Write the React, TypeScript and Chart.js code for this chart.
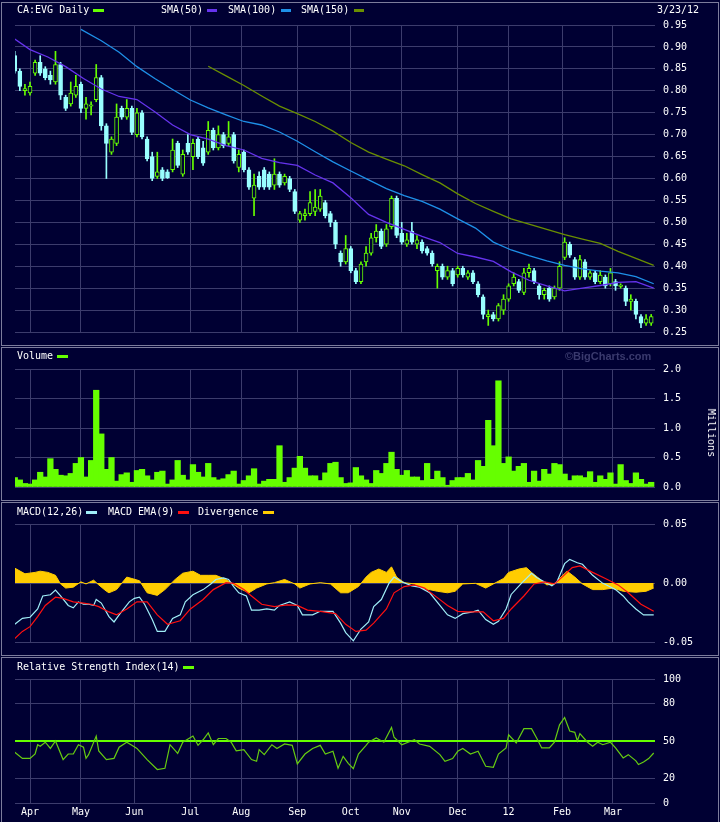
import { useEffect, useRef } from "react"
import { Chart, registerables } from "chart.js"

Chart.register(...registerables)

const BG = "#000033"
const GRID = "#3c3c6c"
const FRAME = "#7c7c9c"
const MONO = "'DejaVu Sans Mono', monospace"
const UP = "#66ff00"
const DOWN = "#99ffff"

// x axis is the trading-day index: 0 = 3/23/11 ... 252 = 3/23/12
const monthDays = [7, 27, 48, 70, 90, 112, 133, 153, 175, 195, 216, 236]
const monthLabels = ["Apr", "May", "Jun", "Jul", "Aug", "Sep", "Oct", "Nov", "Dec", "12", "Feb", "Mar"]

// one candle per two trading days (days 1, 3, 5 ...)
const opens = [
  0.88, 0.845, 0.8, 0.795, 0.84, 0.865, 0.85, 0.835, 0.82, 0.86,
  0.785, 0.77, 0.79, 0.815, 0.76, 0.765, 0.78, 0.83, 0.72, 0.66,
  0.68, 0.76, 0.74, 0.76, 0.7, 0.75, 0.69, 0.65, 0.605, 0.62,
  0.615, 0.62, 0.68, 0.61, 0.68, 0.65, 0.69, 0.67, 0.66, 0.71,
  0.67, 0.7, 0.68, 0.7, 0.625, 0.66, 0.62, 0.555, 0.605, 0.62,
  0.61, 0.585, 0.61, 0.59, 0.6, 0.57, 0.505, 0.515, 0.52, 0.525,
  0.53, 0.545, 0.52, 0.5, 0.43, 0.41, 0.44, 0.39, 0.365, 0.41,
  0.43, 0.465, 0.48, 0.45, 0.49, 0.555, 0.475, 0.45, 0.48, 0.45,
  0.455, 0.44, 0.43, 0.39, 0.4, 0.375, 0.39, 0.38, 0.395, 0.375,
  0.385, 0.36, 0.33, 0.285, 0.29, 0.28, 0.3, 0.325, 0.36, 0.365,
  0.34, 0.385, 0.39, 0.355, 0.335, 0.35, 0.33, 0.35, 0.42, 0.45,
  0.415, 0.375, 0.41, 0.375, 0.385, 0.365, 0.375, 0.36, 0.365, 0.354,
  0.35, 0.32, 0.32, 0.285, 0.27, 0.27,
]
const highs = [
  0.89, 0.85, 0.815, 0.82, 0.87, 0.88, 0.855, 0.845, 0.89, 0.865,
  0.79, 0.82, 0.835, 0.82, 0.785, 0.775, 0.86, 0.835, 0.725, 0.695,
  0.77, 0.765, 0.78, 0.765, 0.76, 0.755, 0.695, 0.66, 0.66, 0.625,
  0.62, 0.69, 0.685, 0.665, 0.7, 0.69, 0.695, 0.685, 0.73, 0.715,
  0.72, 0.705, 0.73, 0.705, 0.665, 0.665, 0.625, 0.61, 0.615, 0.625,
  0.615, 0.645, 0.615, 0.61, 0.605, 0.575, 0.525, 0.53, 0.57, 0.575,
  0.575, 0.55, 0.525, 0.505, 0.435, 0.47, 0.445, 0.395, 0.41, 0.445,
  0.475, 0.495, 0.485, 0.495, 0.56, 0.56, 0.5, 0.475, 0.5, 0.47,
  0.46, 0.445, 0.435, 0.405, 0.405, 0.4, 0.395, 0.4, 0.4, 0.39,
  0.39, 0.365, 0.335, 0.3, 0.295, 0.315, 0.335, 0.36, 0.385, 0.37,
  0.395, 0.405, 0.395, 0.36, 0.35, 0.355, 0.355, 0.41, 0.465, 0.455,
  0.42, 0.425, 0.415, 0.39, 0.39, 0.39, 0.38, 0.395, 0.37, 0.36,
  0.355, 0.335, 0.325, 0.29, 0.29, 0.29,
]
const lows = [
  0.84, 0.8, 0.79, 0.79, 0.835, 0.835, 0.825, 0.815, 0.815, 0.78,
  0.755, 0.765, 0.785, 0.75, 0.735, 0.745, 0.775, 0.71, 0.6, 0.655,
  0.675, 0.735, 0.735, 0.7, 0.695, 0.69, 0.64, 0.595, 0.6, 0.595,
  0.6, 0.615, 0.625, 0.605, 0.655, 0.62, 0.645, 0.63, 0.655, 0.665,
  0.665, 0.67, 0.675, 0.635, 0.615, 0.615, 0.575, 0.515, 0.575, 0.575,
  0.575, 0.575, 0.58, 0.585, 0.57, 0.52, 0.5, 0.505, 0.515, 0.515,
  0.525, 0.51, 0.49, 0.44, 0.4, 0.405, 0.385, 0.36, 0.36, 0.4,
  0.425, 0.455, 0.44, 0.445, 0.485, 0.465, 0.45, 0.445, 0.45, 0.44,
  0.43, 0.425, 0.4, 0.35, 0.37, 0.37, 0.355, 0.375, 0.375, 0.37,
  0.36, 0.33, 0.28, 0.265, 0.275, 0.275, 0.29, 0.32, 0.355, 0.34,
  0.335, 0.375, 0.36, 0.325, 0.325, 0.32, 0.325, 0.345, 0.415, 0.42,
  0.37, 0.37, 0.37, 0.37, 0.36, 0.36, 0.35, 0.355, 0.345, 0.35,
  0.31, 0.3, 0.28, 0.26, 0.265, 0.265,
]
const closes = [
  0.845, 0.81, 0.805, 0.81, 0.865, 0.84, 0.83, 0.825, 0.86, 0.79,
  0.76, 0.795, 0.81, 0.76, 0.77, 0.768, 0.83, 0.72, 0.68, 0.69,
  0.74, 0.74, 0.76, 0.705, 0.75, 0.695, 0.645, 0.6, 0.615, 0.6,
  0.602, 0.665, 0.63, 0.655, 0.66, 0.68, 0.65, 0.635, 0.71, 0.67,
  0.7, 0.675, 0.695, 0.64, 0.655, 0.62, 0.58, 0.585, 0.58, 0.58,
  0.58, 0.61, 0.585, 0.605, 0.575, 0.525, 0.52, 0.52, 0.545, 0.535,
  0.56, 0.515, 0.5, 0.45, 0.41, 0.44, 0.39, 0.365, 0.405, 0.43,
  0.465, 0.48, 0.445, 0.485, 0.555, 0.47, 0.455, 0.46, 0.455, 0.46,
  0.435, 0.43, 0.405, 0.4, 0.375, 0.39, 0.36, 0.395, 0.38, 0.385,
  0.365, 0.335, 0.29, 0.29, 0.28, 0.31, 0.325, 0.355, 0.375, 0.345,
  0.385, 0.395, 0.365, 0.335, 0.345, 0.325, 0.35, 0.4, 0.455, 0.425,
  0.375, 0.415, 0.375, 0.385, 0.365, 0.38, 0.355, 0.385, 0.355, 0.357,
  0.32, 0.325, 0.29, 0.27, 0.28, 0.285,
]
// volume in millions, same two-day sampling as the candles
const volumes = [
  0.16, 0.12, 0.06, 0.05, 0.12, 0.25, 0.17, 0.48, 0.3, 0.2,
  0.19, 0.23, 0.4, 0.5, 0.17, 0.45, 1.64, 0.9, 0.3, 0.5,
  0.1, 0.21, 0.24, 0.08, 0.28, 0.3, 0.19, 0.12, 0.25, 0.27,
  0.05, 0.12, 0.45, 0.2, 0.12, 0.38, 0.25, 0.17, 0.4, 0.16,
  0.12, 0.14, 0.21, 0.27, 0.05, 0.11, 0.19, 0.31, 0.05, 0.1,
  0.13, 0.13, 0.7, 0.08, 0.16, 0.32, 0.52, 0.32, 0.19, 0.19,
  0.11, 0.24, 0.4, 0.42, 0.16, 0.06, 0.07, 0.33, 0.19, 0.12,
  0.06, 0.28, 0.23, 0.4, 0.59, 0.3, 0.2, 0.28, 0.17, 0.17,
  0.11, 0.4, 0.13, 0.27, 0.16, 0.03, 0.11, 0.16, 0.16, 0.23,
  0.12, 0.45, 0.35, 1.13, 0.7, 1.8, 0.4, 0.51, 0.27, 0.35,
  0.4, 0.08, 0.27, 0.1, 0.3, 0.22, 0.4, 0.38, 0.22, 0.11,
  0.19, 0.19, 0.16, 0.26, 0.08, 0.19, 0.13, 0.24, 0.05, 0.38,
  0.11, 0.06, 0.24, 0.13, 0.05, 0.08,
]
const candleDays = opens.map((_, i) => 1 + 2 * i)

const sma50Days = [1, 7, 14, 21, 28, 35, 42, 49, 56, 63, 70, 77, 84, 91, 98, 105, 112, 119, 126, 133, 140, 147, 154, 161, 168, 175, 182, 189, 196, 203, 210, 217, 224, 231, 238, 245, 252]
const sma50 = [0.918, 0.894, 0.877, 0.855, 0.828, 0.804, 0.787, 0.78, 0.752, 0.722, 0.7, 0.69, 0.675, 0.665, 0.646, 0.636, 0.63, 0.608, 0.59, 0.556, 0.518, 0.5, 0.484, 0.468, 0.454, 0.429, 0.421, 0.411, 0.387, 0.368, 0.355, 0.344, 0.35, 0.356, 0.363, 0.365, 0.35]
const sma100Days = [27, 35, 42, 49, 56, 63, 70, 77, 84, 91, 98, 105, 112, 119, 126, 133, 140, 147, 154, 161, 168, 175, 182, 189, 196, 203, 210, 217, 224, 231, 238, 245, 252]
const sma100 = [0.94, 0.914, 0.888, 0.855, 0.828, 0.803, 0.779, 0.761, 0.745, 0.73, 0.722, 0.706, 0.685, 0.661, 0.638, 0.617, 0.597, 0.577, 0.561, 0.548, 0.53, 0.508, 0.487, 0.455, 0.437, 0.424, 0.412, 0.402, 0.394, 0.389, 0.385, 0.376, 0.36]
const sma150Days = [77, 84, 91, 98, 105, 112, 119, 126, 133, 140, 147, 154, 161, 168, 175, 182, 189, 196, 203, 210, 217, 224, 231, 238, 245, 252]
const sma150 = [0.856, 0.834, 0.812, 0.788, 0.765, 0.748, 0.73, 0.708, 0.682, 0.66, 0.644, 0.629, 0.609, 0.59, 0.565, 0.543, 0.525, 0.508, 0.496, 0.484, 0.472, 0.462, 0.452, 0.434, 0.418, 0.402]

const macdDays = [1, 4, 7, 10, 12, 15, 17, 19, 22, 24, 26, 28, 30, 32, 33, 35, 38, 40, 42, 46, 48, 50, 52, 55, 57, 60, 63, 66, 68, 71, 75, 78, 80, 83, 85, 87, 89, 92, 94, 97, 100, 103, 105, 109, 112, 114, 118, 121, 126, 129, 131, 134, 137, 140, 142, 145, 148, 150, 153, 157, 160, 164, 168, 171, 174, 177, 181, 183, 186, 189, 191, 194, 196, 200, 204, 206, 209, 212, 214, 217, 219, 222, 224, 228, 232, 234, 237, 240, 242, 245, 248, 252]
const macdLine = [-0.035, -0.03, -0.029, -0.022, -0.011, -0.01, -0.006, -0.011, -0.019, -0.021, -0.016, -0.018, -0.018, -0.019, -0.014, -0.017, -0.0285, -0.033, -0.027, -0.016, -0.013, -0.012, -0.018, -0.031, -0.041, -0.041, -0.03, -0.027, -0.016, -0.01, -0.0056, -0.0008, 0.003, 0.0043, 0.003, -0.003, -0.0083, -0.011, -0.023, -0.023, -0.022, -0.023, -0.019, -0.016, -0.019, -0.027, -0.027, -0.024, -0.024, -0.034, -0.042, -0.049, -0.039, -0.033, -0.02, -0.014, -0.0003, 0.005, 0.001, -0.0024, -0.0035, -0.0083, -0.019, -0.027, -0.03, -0.026, -0.0245, -0.023, -0.031, -0.035, -0.0325, -0.022, -0.0097, -0.0003, 0.0083, 0.0046, 0.001, -0.0024, 0.001, 0.0164, 0.02, 0.0172, 0.0159, 0.0065, -0.0003, -0.0024, -0.0056, -0.011, -0.016, -0.022, -0.027, -0.027]
const emaDays = [1, 4, 7, 10, 13, 17, 20, 24, 28, 31, 34, 38, 41, 45, 49, 53, 57, 61, 66, 70, 75, 79, 84, 87, 91, 94, 98, 103, 108, 112, 116, 121, 127, 131, 135, 139, 142, 147, 150, 154, 158, 162, 167, 171, 175, 179, 185, 189, 193, 196, 201, 205, 209, 213, 216, 220, 223, 228, 233, 238, 242, 247, 252]
const emaLine = [-0.047, -0.041, -0.037, -0.0285, -0.019, -0.012, -0.013, -0.016, -0.017, -0.018, -0.02, -0.0245, -0.027, -0.022, -0.016, -0.016, -0.027, -0.035, -0.032, -0.022, -0.014, -0.0056, 0.0003, -0.0003, -0.0056, -0.011, -0.018, -0.02, -0.0186, -0.019, -0.023, -0.024, -0.026, -0.035, -0.041, -0.04, -0.034, -0.022, -0.0083, -0.003, -0.0016, -0.0043, -0.0124, -0.019, -0.024, -0.0245, -0.0245, -0.032, -0.03, -0.022, -0.011, -0.0008, 0.001, -0.0008, 0.005, 0.013, 0.0145, 0.009, 0.0038, -0.0016, -0.0083, -0.018, -0.024]
const divDays = [1, 5, 9, 11, 14, 17, 19, 21, 24, 27, 29, 32, 34, 37, 38, 41, 45, 47, 50, 53, 57, 60, 64, 67, 71, 74, 77, 80, 84, 86, 89, 93, 96, 100, 103, 107, 111, 113, 117, 121, 125, 129, 132, 136, 139, 141, 144, 147, 149, 151, 154, 158, 161, 167, 171, 174, 177, 182, 186, 189, 193, 195, 199, 202, 204, 207, 210, 213, 215, 218, 221, 224, 228, 232, 236, 240, 245, 249, 252]
const divergence = [0.0126, 0.0078, 0.009, 0.01, 0.009, 0.0065, -0.0008, -0.0043, -0.0035, 0.001, -0.0008, 0.0024, -0.0016, -0.007, -0.0083, -0.0056, 0.005, 0.0038, 0.0019, -0.0083, -0.0105, -0.0056, 0.003, 0.0083, 0.01, 0.0065, 0.0065, 0.0065, 0.003, 0.0003, -0.0043, -0.0083, -0.0043, -0.0008, 0.0003, 0.003, -0.0008, -0.0043, -0.0008, 0.0003, -0.0008, -0.0083, -0.0083, -0.003, 0.005, 0.009, 0.0118, 0.009, 0.0137, 0.005, 0.0003, -0.0008, -0.0043, -0.007, -0.0083, -0.007, -0.0008, -0.0003, -0.0043, -0.0008, 0.0038, 0.009, 0.0118, 0.013, 0.009, 0.0038, -0.0016, -0.0008, 0.0038, 0.01, 0.005, -0.0008, -0.0056, -0.0056, -0.0043, -0.007, -0.0078, -0.007, -0.0043]

const rsiDays = [1, 4, 7, 9, 10, 11, 13, 15, 17, 20, 22, 24, 26, 28, 29, 30, 33, 34, 37, 40, 42, 45, 47, 49, 53, 57, 60, 62, 65, 67, 71, 73, 75, 77, 79, 81, 84, 86, 88, 91, 94, 96, 97, 99, 102, 104, 107, 110, 112, 115, 118, 121, 123, 126, 128, 130, 132, 134, 136, 139, 140, 143, 146, 149, 150, 153, 158, 160, 164, 168, 170, 173, 175, 177, 180, 183, 186, 189, 191, 194, 195, 198, 201, 204, 206, 208, 211, 213, 215, 217, 219, 221, 222, 223, 226, 228, 230, 232, 235, 237, 240, 242, 245, 246, 248, 250, 252]
const rsi = [41, 36, 36, 39.5, 47, 45.7, 49, 44, 50, 35, 39.5, 39.5, 47, 45, 36, 39, 54, 42, 35, 36, 45, 49, 46.5, 44, 35, 27, 28, 47, 40, 49, 54, 46.5, 51, 56.5, 47, 52, 52, 49, 42, 43, 35, 33.6, 43, 39, 47, 44, 47.6, 46.5, 31.5, 39.5, 44, 46.5, 39.5, 41.7, 28, 37.6, 32, 27.7, 39.5, 46.5, 49, 52.4, 49, 61, 53, 47, 51, 47.6, 45.7, 39, 33.6, 35.8, 41.7, 44, 39.5, 41.7, 29.6, 28.8, 39.5, 44.4, 55, 48.4, 60, 60, 52.4, 44.4, 44.4, 49, 63, 69, 58, 57, 50, 56, 49, 45.7, 49, 47, 49, 44.4, 36.3, 39, 34, 31, 33, 35.8, 40.3]

const priceTicks = [0.25, 0.3, 0.35, 0.4, 0.45, 0.5, 0.55, 0.6, 0.65, 0.7, 0.75, 0.8, 0.85, 0.9, 0.95]
const volumeTicks = [0, 0.5, 1, 1.5, 2]
const macdTicks = [-0.05, 0, 0.05]
const rsiTicks = [0, 20, 50, 80, 100]

const tickFont = { family: MONO, size: 10 }

function pts(days: number[], values: number[]) {
  return days.map((d, i) => ({ x: d, y: values[i] }))
}

function xAxis(showLabels: boolean): any {
  return {
    type: "linear",
    min: 1.1,
    max: 252.5,
    offset: false,
    afterBuildTicks: (s: any) => {
      s.ticks = monthDays.map((v) => ({ value: v }))
    },
    afterFit: (s: any) => {
      s.height = showLabels ? 19 : 0
    },
    grid: { color: GRID, drawTicks: false, offset: false },
    border: { display: false },
    ticks: {
      display: showLabels,
      autoSkip: false,
      maxRotation: 0,
      color: "#ffffff",
      font: tickFont,
      padding: 3,
      callback: (v: any) => monthLabels[monthDays.indexOf(v)] ?? "",
    },
  }
}

function yAxis(min: number, max: number, ticks: number[], digits: number, extra: any = {}): any {
  return {
    type: "linear",
    position: "right",
    min,
    max,
    afterBuildTicks: (s: any) => {
      s.ticks = ticks.map((v) => ({ value: v }))
    },
    afterFit: (s: any) => {
      s.width = 65
    },
    grid: { color: GRID, drawTicks: false, ...extra },
    border: { display: false },
    ticks: { color: "#ffffff", font: tickFont, padding: 8, callback: (v: any) => Number(v).toFixed(digits) },
  }
}

function baseOptions(top: number, bottom: number, showLabels: boolean, y: any): any {
  return {
    responsive: false,
    animation: false,
    events: [],
    layout: { padding: { left: 15, right: 0, top, bottom } },
    plugins: { legend: { display: false }, tooltip: { enabled: false } },
    scales: { x: xAxis(showLabels), y },
  }
}

function priceConfig(): any {
  const up = opens.map((o, i) => closes[i] >= o)
  return {
    type: "bar",
    data: {
      datasets: [
        { type: "line", order: 0, data: pts(sma50Days, sma50), borderColor: "#6633ee", borderWidth: 1.3, pointRadius: 0 },
        { type: "line", order: 0, data: pts(sma100Days, sma100), borderColor: "#1e90e8", borderWidth: 1.3, pointRadius: 0 },
        { type: "line", order: 0, data: pts(sma150Days, sma150), borderColor: "#6a8f00", borderWidth: 1.3, pointRadius: 0 },
        {
          order: 1,
          grouped: false,
          data: candleDays.map((d, i) => ({ x: d, y: [Math.min(opens[i], closes[i]), Math.max(opens[i], closes[i])] })),
          backgroundColor: up.map((u) => (u ? BG : DOWN)),
          borderColor: up.map((u) => (u ? UP : DOWN)),
          borderWidth: 1,
          borderSkipped: false,
          barThickness: 4,
        },
        {
          order: 2,
          grouped: false,
          data: candleDays.map((d, i) => ({ x: d, y: [lows[i], highs[i]] })),
          backgroundColor: up.map((u) => (u ? UP : DOWN)),
          borderWidth: 0,
          barThickness: 1,
        },
      ],
    },
    options: baseOptions(25, 8, false, yAxis(0.25, 0.95, priceTicks, 2)),
  }
}

function volumeConfig(): any {
  return {
    type: "bar",
    data: {
      datasets: [
        { data: pts(candleDays, volumes), backgroundColor: UP, borderWidth: 0, barThickness: 5.6 },
      ],
    },
    options: baseOptions(22, 8, false, yAxis(0, 2, volumeTicks, 1)),
  }
}

function macdConfig(): any {
  return {
    type: "line",
    data: {
      datasets: [
        { order: 0, data: pts(emaDays, emaLine), borderColor: "#ff1010", borderWidth: 1.2, pointRadius: 0 },
        { order: 1, data: pts(macdDays, macdLine), borderColor: "#a0eef8", borderWidth: 1.2, pointRadius: 0 },
        { order: 2, data: pts(divDays, divergence), borderColor: "#ffcc00", borderWidth: 1, backgroundColor: "#ffcc00", fill: "origin", pointRadius: 0 },
      ],
    },
    options: baseOptions(22, 8, false, yAxis(-0.05, 0.05, macdTicks, 2)),
  }
}

function rsiConfig(): any {
  const y = yAxis(0, 100, rsiTicks, 0, {
    color: (c: any) => (c.tick && c.tick.value === 50 ? "#66ff00" : GRID),
    lineWidth: (c: any) => (c.tick && c.tick.value === 50 ? 2 : 1),
  })
  return {
    type: "line",
    data: {
      datasets: [
        { data: pts(rsiDays, rsi), borderColor: "#66cc11", borderWidth: 1.2, pointRadius: 0 },
      ],
    },
    options: baseOptions(22, 0, true, y),
  }
}

function ChartCanvas({ top, height, build }: { top: number; height: number; build: () => any }) {
  const canvasRef = useRef<HTMLCanvasElement>(null)

  useEffect(() => {
    if (!canvasRef.current) return
    const chart = new Chart(canvasRef.current, build())
    return () => {
      chart.destroy()
    }
  }, [build])

  return <canvas ref={canvasRef} width={720} height={height} style={{ position: "absolute", left: 0, top }} />
}

function Label({ x, y, text, color = "#ffffff" }: { x: number; y: number; text: string; color?: string }) {
  return (
    <span style={{ position: "absolute", left: x, top: y - 6, fontSize: 10, lineHeight: "12px", whiteSpace: "pre", color }}>
      {text}
    </span>
  )
}

function Dash({ x, y, w, color }: { x: number; y: number; w: number; color: string }) {
  return <div style={{ position: "absolute", left: x, top: y - 1, width: w, height: 3, background: color }} />
}

function Frame({ top, height }: { top: number; height: number }) {
  return (
    <div
      style={{
        position: "absolute",
        left: 1,
        top,
        width: 718,
        height,
        boxSizing: "border-box",
        border: `1px solid ${FRAME}`,
      }}
    />
  )
}

export default function App() {
  return (
    <div
      style={{
        position: "absolute",
        left: 0,
        top: 0,
        width: 720,
        height: 822,
        overflow: "hidden",
        background: BG,
        fontFamily: MONO,
        color: "#ffffff",
      }}
    >
      <Frame top={2} height={344} />
      <Frame top={347} height={154} />
      <Frame top={502} height={154} />
      <Frame top={657} height={170} />

      <ChartCanvas top={0} height={346} build={priceConfig} />
      <ChartCanvas top={347} height={154} build={volumeConfig} />
      <ChartCanvas top={502} height={154} build={macdConfig} />
      <ChartCanvas top={657} height={165} build={rsiConfig} />

      <Label x={17} y={10} text="CA:EVG Daily" />
      <Dash x={93} y={10} w={11} color={UP} />
      <Label x={161} y={10} text="SMA(50)" />
      <Dash x={207} y={10} w={10} color="#6633ee" />
      <Label x={228} y={10} text="SMA(100)" />
      <Dash x={281} y={10} w={10} color="#1e90e8" />
      <Label x={301} y={10} text="SMA(150)" />
      <Dash x={354} y={10} w={10} color="#6a8f00" />
      <Label x={657} y={10} text="3/23/12" />

      <Label x={17} y={356} text="Volume" />
      <Dash x={57} y={356} w={11} color={UP} />
      <span
        style={{
          position: "absolute",
          left: 565,
          top: 349,
          fontFamily: "'Liberation Sans', Arial, sans-serif",
          fontWeight: "bold",
          fontSize: 11,
          lineHeight: "14px",
          color: "#3a3a6e",
          whiteSpace: "pre",
        }}
      >
        ©BigCharts.com
      </span>
      <span
        style={{
          position: "absolute",
          left: 711,
          top: 433,
          fontSize: 10,
          lineHeight: "12px",
          whiteSpace: "pre",
          transform: "translate(-50%, -50%) rotate(90deg)",
        }}
      >
        Millions
      </span>

      <Label x={17} y={512} text="MACD(12,26)" />
      <Dash x={86} y={512} w={11} color="#a0eef8" />
      <Label x={108} y={512} text="MACD EMA(9)" />
      <Dash x={178} y={512} w={11} color="#ff1010" />
      <Label x={198} y={512} text="Divergence" />
      <Dash x={263} y={512} w={11} color="#ffcc00" />

      <Label x={17} y={667} text="Relative Strength Index(14)" />
      <Dash x={183} y={667} w={11} color={UP} />
    </div>
  )
}
